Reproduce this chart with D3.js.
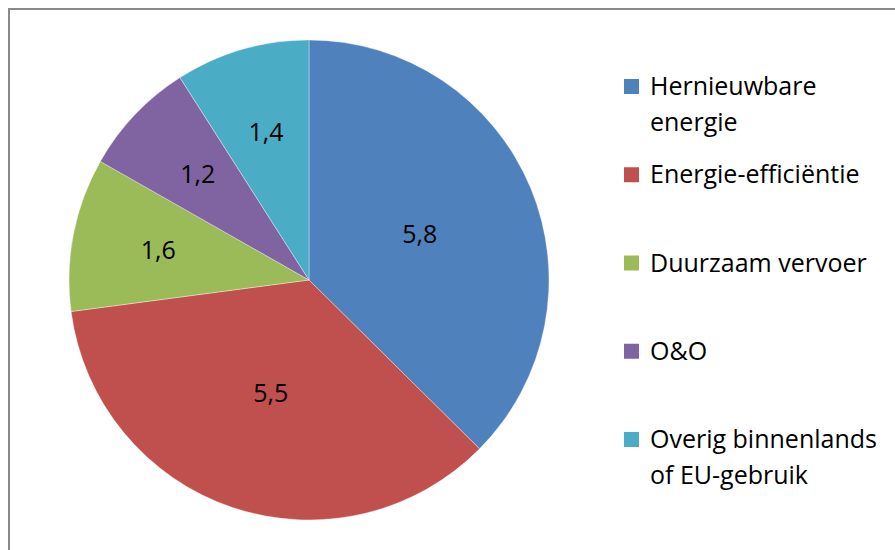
<!DOCTYPE html>
<html lang="nl">
<head>
<meta charset="UTF-8">
<title>Pie</title>
<script src="https://d3js.org/d3.v7.min.js"></script>
<style>
  body { margin: 0; background: #fff; }
  svg text { font-family: "Open Sans", "Noto Sans", sans-serif; fill: #000; }
</style>
</head>
<body>
<svg id="chart" width="895" height="550"></svg>
<script>
// data
var categories = ["Hernieuwbare energie", "Energie-efficiëntie", "Duurzaam vervoer", "O&O", "Overig binnenlands of EU-gebruik"];
var values = [5.8, 5.5, 1.6, 1.2, 1.4];
var colors = ["#4f81bd", "#c0504d", "#9bbb59", "#8064a2", "#4bacc6"];

var svg = d3.select("#chart");

// frame
svg.append("rect")
  .attr("x", 9).attr("y", 9)
  .attr("width", 920).attr("height", 600)
  .attr("fill", "none")
  .attr("stroke", "#8a8a8a")
  .attr("stroke-width", 2);

var cx = 309, cy = 280, radius = 240;

var pie = d3.pie().sort(null).value(function(d) { return d; });
var arcs = pie(values);
var arc = d3.arc().innerRadius(0).outerRadius(radius);

var g = svg.append("g").attr("transform", "translate(" + cx + "," + cy + ")");

g.selectAll("path")
  .data(arcs)
  .enter()
  .append("path")
    .attr("d", arc)
    .attr("fill", function(d, i) { return colors[i]; })
    .attr("stroke", "#ffffff")
    .attr("stroke-width", 0.6)
    .attr("stroke-opacity", 0.6);

// labels: big slices closer to the middle, small ones further out
function labelArc(d) {
  var r = d.value > 3 ? radius * 0.5 : radius * 0.64;
  return d3.arc().innerRadius(r).outerRadius(r).centroid(d);
}

var fmt = function(v) { return d3.format(".1f")(v).replace(".", ","); };

g.selectAll("text.lbl")
  .data(arcs)
  .enter()
  .append("text")
    .attr("class", "lbl")
    .attr("x", function(d) { return labelArc(d)[0]; })
    .attr("y", function(d) { return labelArc(d)[1]; })
    .attr("dy", "0.35em")
    .attr("text-anchor", "middle")
    .style("font-size", "25px")
    .text(function(d) { return fmt(d.value); });

// legend
var legend = svg.append("g").attr("transform", "translate(624,0)");
var rowY = d3.scalePoint().domain(d3.range(categories.length)).range([86, 439]);

var item = legend.selectAll("g.item")
  .data(categories)
  .enter()
  .append("g")
    .attr("class", "item")
    .attr("transform", function(d, i) { return "translate(0," + rowY(i) + ")"; });

item.append("rect")
  .attr("x", 0).attr("y", -7)
  .attr("width", 15).attr("height", 15)
  .attr("fill", function(d, i) { return colors[i]; });

item.append("text")
  .attr("x", 26)
  .attr("y", 9)
  .style("font-size", "25px")
  .each(function(d) {
    // wrap on words to fit the legend width
    var t = d3.select(this), words = d.split(" "), line = [];
    var tspan = t.append("tspan").attr("x", 26).attr("dy", 0);
    words.forEach(function(w) {
      line.push(w);
      tspan.text(line.join(" "));
      if (tspan.node().getComputedTextLength() > 242 && line.length > 1) {
        line.pop();
        tspan.text(line.join(" "));
        line = [w];
        tspan = t.append("tspan").attr("x", 26).attr("dy", 36).text(w);
      }
    });
  });
</script>
</body>
</html>
